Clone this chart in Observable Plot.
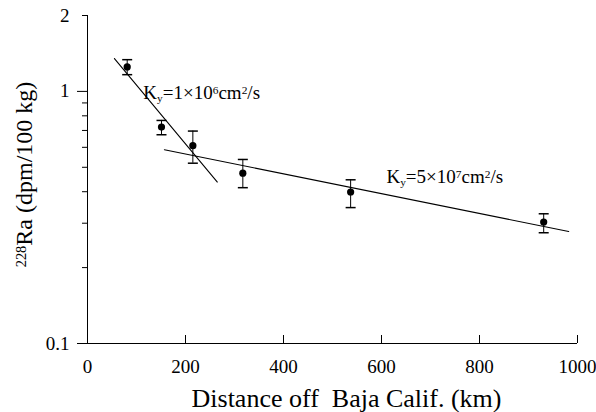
<!DOCTYPE html>
<html>
<head>
<meta charset="utf-8">
<script src="https://cdn.jsdelivr.net/npm/d3@7"></script>
<script src="https://cdn.jsdelivr.net/npm/@observablehq/plot@0.6"></script>
<style>
  html, body { margin: 0; padding: 0; background: #fff; }
  #chart svg { display: block; background: #fff; }
  #chart svg, #chart svg text, #chart svg tspan { font-family: "Liberation Serif", "Times New Roman", serif !important; }
</style>
</head>
<body>
<div id="chart"></div>
<script>
// ---- data ----
const distance = [81, 151, 215, 317, 537, 931];            // km
const ra228    = [1.25, 0.722, 0.609, 0.474, 0.399, 0.303]; // dpm/100 kg
const raLow    = [1.165, 0.673, 0.519, 0.415, 0.346, 0.275];
const raHigh   = [1.336, 0.767, 0.696, 0.537, 0.446, 0.327];

const fit1X = [55, 265];   const fit1Y = [1.35, 0.437];   // Ky = 1e6 cm2/s
const fit2X = [157, 982];  const fit2Y = [0.587, 0.278];  // Ky = 5e7 cm2/s

const xTicks = [0, 200, 400, 600, 800, 1000];
const yLabelTicks = [0.1, 1, 2];
const yLongTicks = [0.1, 1];
const yShortTicks = [0.2, 0.3, 0.4, 0.5, 0.6, 0.7, 0.8, 0.9, 2];

const annotText = ["K_{y}=1×10^{6}cm^{2}/s", "K_{y}=5×10^{7}cm^{2}/s"];
const annotX = [114, 610];
const annotY = [0.99, 0.46];

const xTitle = "Distance off\u00a0 Baja Calif. (km)";
const yTitle = "^{228}Ra (dpm/100 kg)";

// ---- tables ----
const points = distance.map((d, i) => ({d, v: ra228[i], lo: raLow[i], hi: raHigh[i]}));
const fit1 = fit1X.map((d, i) => ({d, v: fit1Y[i]}));
const fit2 = fit2X.map((d, i) => ({d, v: fit2Y[i]}));
const annots = annotText.map((t, i) => ({t, d: annotX[i], v: annotY[i]}));

const capSymbol = {draw(ctx) { ctx.moveTo(-5, 0); ctx.lineTo(5, 0); }};

const chart = Plot.plot({
  width: 596,
  height: 412,
  marginLeft: 87,
  marginRight: 19,
  marginTop: 15,
  marginBottom: 69,
  style: {fontFamily: "Liberation Serif, serif", fontSize: "19px", color: "#000", background: "#fff"},
  x: {domain: [0, 1000], label: null},
  y: {type: "log", domain: [0.1, 2], label: null},
  marks: [
    Plot.ruleX([0], {stroke: "#000"}),
    Plot.ruleY([0.1], {stroke: "#000"}),
    Plot.axisY(yLongTicks, {tickSize: 10, tickFormat: () => "", label: null}),
    Plot.axisY(yShortTicks, {tickSize: 5, tickFormat: () => "", label: null}),
    Plot.axisY(yLabelTicks, {tickSize: 0, tickPadding: 18, tickFormat: d => String(d), label: null}),
    Plot.axisX(xTicks, {tickSize: -8, tickFormat: () => "", label: null}),
    Plot.axisX(xTicks, {tickSize: 0, tickPadding: 16, tickFormat: d => String(d), label: null}),
    Plot.line(fit1, {x: "d", y: "v", stroke: "#000", strokeWidth: 1.1}),
    Plot.line(fit2, {x: "d", y: "v", stroke: "#000", strokeWidth: 1.1}),
    Plot.ruleX(points, {x: "d", y1: "lo", y2: "hi", stroke: "#000", strokeWidth: 1}),
    Plot.dot(points, {x: "d", y: "lo", symbol: capSymbol, stroke: "#000", fill: "none", r: 3}),
    Plot.dot(points, {x: "d", y: "hi", symbol: capSymbol, stroke: "#000", fill: "none", r: 3}),
    Plot.dot(points, {x: "d", y: "v", r: 3.6, fill: "#000", stroke: "none"}),
    Plot.text(annots, {x: "d", y: "v", text: "t", textAnchor: "start", fontSize: 19, fill: "#000", className: "rich"}),
    Plot.text([xTitle], {frameAnchor: "bottom", textAnchor: "middle", lineAnchor: "middle", dy: 55, dx: 14, fontSize: 26, fill: "#000"}),
    Plot.text([yTitle], {frameAnchor: "left", textAnchor: "middle", lineAnchor: "middle", rotate: -90, dx: -63, dy: -5, fontSize: 24, fill: "#000", className: "rich"})
  ]
});

// rich text: ^{sup} and _{sub}
const NS = "http://www.w3.org/2000/svg";
d3.select(chart).selectAll(".rich text").each(function() {
  const str = this.textContent;
  while (this.firstChild) this.removeChild(this.firstChild);
  const re = /(\^|_)\{([^}]*)\}/g;
  let last = 0, m;
  const add = (txt, kind) => {
    if (!txt) return;
    const ts = document.createElementNS(NS, "tspan");
    ts.textContent = txt;
    if (kind === "^") { ts.setAttribute("font-size", "60%"); ts.setAttribute("baseline-shift", "45%"); }
    if (kind === "_") { ts.setAttribute("font-size", "60%"); ts.setAttribute("baseline-shift", "-25%"); }
    this.appendChild(ts);
  };
  while ((m = re.exec(str))) { add(str.slice(last, m.index), null); add(m[2], m[1]); last = re.lastIndex; }
  add(str.slice(last), null);
});

document.getElementById("chart").appendChild(chart);
</script>
</body>
</html>
